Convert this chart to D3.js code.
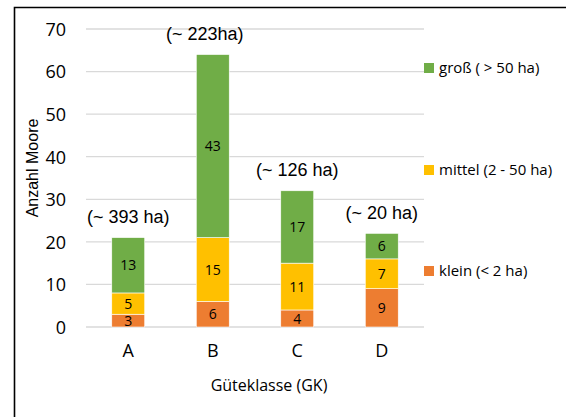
<!DOCTYPE html>
<html><head><meta charset="utf-8">
<script src="https://cdn.jsdelivr.net/npm/d3@7"></script>
<style>body{margin:0;background:#fff}svg{display:block}</style>
</head><body>
<svg id="c" width="566" height="417"></svg>
<script>
const categories = ["A","B","C","D"];
const klein  = [3, 6, 4, 9];
const mittel = [5, 15, 11, 7];
const gross  = [13, 43, 17, 6];
const areaLabels = ["(~ 393 ha)", "(~ 223ha)", "(~ 126 ha)", "(~ 20 ha)"];
const seriesNames = ["klein (< 2 ha)", "mittel (2 - 50 ha)", "groß ( > 50 ha)"];
const yTicks = [0,10,20,30,40,50,60,70];
const colors = ["#ED7D31", "#FFC000", "#70AD47"];

const svg = d3.select("#c");
const fontA = "'Open Sans', sans-serif";
const fontB = "'Liberation Sans', Arial, sans-serif";

// frame
svg.append("path").attr("d","M14.5,417 L14.5,7.5 L566,7.5").attr("fill","none").attr("stroke","#000").attr("stroke-width",1.6);

const x = d3.scaleBand().domain(categories).range([86,424]).paddingInner(0.61).paddingOuter(0.305);
const y = d3.scaleLinear().domain([0,70]).range([327,29]);

// grid
svg.append("g").selectAll("line").data(yTicks).join("line")
  .attr("x1",86).attr("x2",424).attr("y1",d=>y(d)).attr("y2",d=>y(d))
  .attr("stroke","#D9D9D9").attr("stroke-width",1.3);

// y axis labels
const yAxis = d3.axisLeft(y).tickValues(yTicks).tickSize(0).tickPadding(0);
const ya = svg.append("g").attr("transform","translate(66,0)").call(yAxis);
ya.select(".domain").remove();
ya.selectAll("text").attr("font-family",fontA).attr("font-size",18).attr("fill","#000").attr("dy","0.35em");

// x axis labels
const xAxis = d3.axisBottom(x).tickSize(0).tickPadding(0);
const xa = svg.append("g").attr("transform","translate(0,344)").call(xAxis);
xa.select(".domain").remove();
xa.selectAll("text").attr("font-family",fontA).attr("font-size",18).attr("fill","#000").attr("dy","0.7em");

// stacked data
const rows = categories.map((c,i)=>({cat:c, klein:klein[i], mittel:mittel[i], gross:gross[i]}));
const keys = ["klein","mittel","gross"];
const stack = d3.stack().keys(keys)(rows);

const layers = svg.append("g").selectAll("g").data(stack).join("g").attr("fill",(d,i)=>colors[i]);
layers.selectAll("rect").data(d=>d).join("rect")
  .attr("x",d=>x(d.data.cat)).attr("width",x.bandwidth())
  .attr("y",d=>y(d[1])).attr("height",d=>y(d[0])-y(d[1]))
  .attr("stroke","#fff").attr("stroke-width",0.6);

layers.selectAll("text").data(d=>d).join("text")
  .attr("x",d=>x(d.data.cat)+x.bandwidth()/2)
  .attr("y",d=>(y(d[0])+y(d[1]))/2)
  .attr("dy","0.36em").attr("text-anchor","middle")
  .attr("font-family",fontA).attr("font-size",14).attr("fill","#000")
  .text(d=>d[1]-d[0]);

// area annotations
const annDx = [0,-8,0,0];
const totals = categories.map((c,i)=>klein[i]+mittel[i]+gross[i]);
svg.append("g").selectAll("text").data(areaLabels).join("text")
  .attr("x",(d,i)=>x(categories[i])+x.bandwidth()/2+annDx[i])
  .attr("y",(d,i)=>y(totals[i])-21)
  .attr("dy","0.35em").attr("text-anchor","middle")
  .attr("font-family",fontB).attr("font-size",18).attr("fill","#000")
  .text(d=>d);

// axis titles
svg.append("text").attr("x",269).attr("y",385).attr("dy","0.35em").attr("text-anchor","middle")
  .attr("font-family",fontA).attr("font-size",16).text("Güteklasse (GK)");
svg.append("text").attr("transform","translate(32,168) rotate(-90)").attr("dy","0.35em").attr("text-anchor","middle")
  .attr("font-family",fontB).attr("font-size",16).text("Anzahl Moore");

// legend
const legendY = [271,170,68];
const lg = svg.append("g").selectAll("g").data(seriesNames).join("g")
  .attr("transform",(d,i)=>`translate(424,${legendY[i]})`);
lg.append("rect").attr("x",0).attr("y",-5).attr("width",10).attr("height",10).attr("fill",(d,i)=>colors[i]);
lg.append("text").attr("x",15).attr("y",0).attr("dy","0.35em")
  .attr("font-family",fontA).attr("font-size",15).attr("fill","#000").text(d=>d);
</script>
</body></html>
